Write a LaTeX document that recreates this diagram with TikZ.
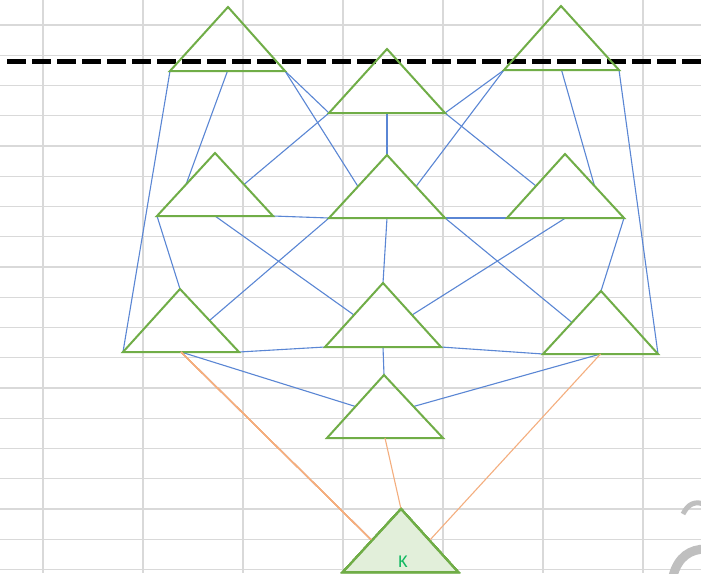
\documentclass[tikz,border=0pt]{standalone}
\usepackage{fontspec}
\newfontfamily\kfont{Carlito}
\usetikzlibrary{calc}
\definecolor{trigreen}{HTML}{70AD47}
\definecolor{linkblue}{HTML}{5A86D4}
\definecolor{linkorange}{HTML}{F4AE7E}
\definecolor{gridgray}{HTML}{D9D9D9}
\definecolor{kfill}{HTML}{E2EFDA}
\definecolor{ktext}{HTML}{10B860}
\definecolor{wmgray}{HTML}{BFBFBF}
\tikzset{
  gridline/.style={draw=gridgray, line width=1.2pt},
  trishape/.style={draw=trigreen, line width=2pt, line join=miter},
  bluelink/.style={draw=linkblue, line width=1.1pt},
  orangelink/.style={draw=linkorange, line width=1.1pt},
  cutline/.style={draw=black, line width=5.5pt, dash pattern=on 19pt off 6pt},
  wmark/.style={draw=wmgray, line cap=butt},
}
\newcommand{\tridef}[6]{%
  \coordinate (#1-a) at (#2,#3);
  \coordinate (#1-l) at (#5,#4);
  \coordinate (#1-r) at (#6,#4);
  \coordinate (#1-m) at ($(#1-l)!0.5!(#1-r)$);
  \coordinate (#1-ls) at ($(#1-l)!0.5!(#1-a)$);
  \coordinate (#1-rs) at ($(#1-r)!0.5!(#1-a)$);
}
\newcommand{\tridraw}[2][]{%
  \draw[trishape,#1] (#2-a) -- (#2-l) -- (#2-r) -- cycle;
}
\begin{document}
\begin{tikzpicture}[x=1pt,y=-1pt]
\useasboundingbox (0,0) rectangle (701,573);
\fill[white] (0,0) rectangle (701,573);
\begin{scope}
\clip (0,0) rectangle (701,573);
% spreadsheet grid
\foreach \gx in {43,143,243,343,443,543,643}
  \draw[gridline] (\gx,0) -- (\gx,573);
\foreach \k [evaluate=\k as \gy using 25+30.25*\k] in {0,...,18}
  \draw[gridline] (0,\gy) -- (701,\gy);
% watermark fragments
\draw[wmark, line width=5pt] (683,514) .. controls (688,504) and (695,500) .. (706,505);
\draw[wmark, line width=9pt] (673,576) .. controls (678,557) and (690,549) .. (706,549);
% dashed cut line
\coordinate (cutL) at (7,61.5);
\coordinate (cutR) at (705,61.5);
\draw[cutline] (cutL) -- (cutR);
% triangles
\tridef{T1}{228}{7}{71}{170}{285}
\tridef{T2}{561}{6}{70}{504}{619}
\tridef{T3}{387}{49}{113}{329}{445}
\tridef{T4}{215}{153}{216}{157}{273}
\tridef{T5}{387}{155}{218}{329}{445}
\tridef{T6}{565}{154}{218}{507}{624}
\tridef{T7}{180}{289}{352}{123}{239}
\tridef{T8}{383}{283}{347}{325}{441}
\tridef{T9}{601}{291}{354}{543}{658}
\tridef{T10}{384}{375}{438}{327}{443}
\tridef{K}{401}{509}{572}{343}{458}
% blue connectors
\draw[bluelink] (T1-l) -- (T7-l);
\draw[bluelink] (T1-m) -- (T4-ls);
\draw[bluelink] (T1-r) -- (T5-ls);
\draw[bluelink] (T1-r) -- (T3-l);
\draw[bluelink] (T2-l) -- (T3-r);
\draw[bluelink] (T2-l) -- (T5-rs);
\draw[bluelink] (T2-m) -- (T6-rs);
\draw[bluelink] (T2-r) -- (T9-r);
\draw[bluelink] (T3-l) -- (T4-rs);
\draw[bluelink] (T3-m) -- (T5-a);
\draw[bluelink] (T3-r) -- (T6-ls);
\draw[bluelink] (T4-r) -- (T5-l);
\draw[bluelink] (T4-l) -- (T7-a);
\draw[bluelink] (T4-m) -- (T8-ls);
\draw[bluelink] (T5-l) -- (T7-rs);
\draw[bluelink] (T5-m) -- (T8-a);
\draw[bluelink] (T5-r) -- (T6-l);
\draw[bluelink] (T5-r) -- (T9-ls);
\draw[bluelink] (T6-m) -- (T8-rs);
\draw[bluelink] (T6-r) -- (T9-a);
\draw[bluelink] (T7-r) -- (T8-l);
\draw[bluelink] (T7-m) -- (T10-ls);
\draw[bluelink] (T8-r) -- (T9-l);
\draw[bluelink] (T8-m) -- (T10-a);
\draw[bluelink] (T9-m) -- (T10-rs);
% triangle outlines
\foreach \t in {T1,T2,T3,T4,T5,T6,T7,T8,T9,T10}
  \tridraw{\t}
\tridraw[fill=kfill]{K}
% orange connectors
\draw[orangelink] (T7-m) -- (K-ls);
\draw[orangelink] (T9-m) -- (K-rs);
\draw[orangelink] (T10-m) -- (K-a);
\tridraw{K}
\node[text=ktext, font=\kfont\fontsize{18}{18}\selectfont, inner sep=0pt] (klabel) at (403,562) {K};
\end{scope}
\end{tikzpicture}
\end{document}
